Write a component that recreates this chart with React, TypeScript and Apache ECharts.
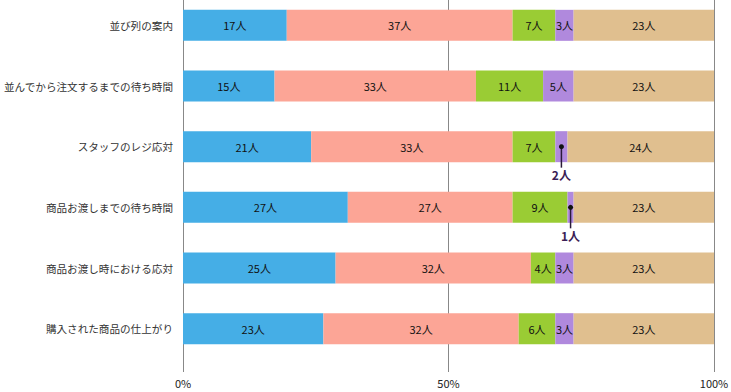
import React, { useEffect, useRef } from "react";
import * as echarts from "echarts";

const categories = [
  "並び列の案内",
  "並んでから注文するまでの待ち時間",
  "スタッフのレジ応対",
  "商品お渡しまでの待ち時間",
  "商品お渡し時における応対",
  "購入された商品の仕上がり",
];
const s1 = [17, 15, 21, 27, 25, 23];
const s2 = [37, 33, 33, 27, 32, 32];
const s3 = [7, 11, 7, 9, 4, 6];
const s4 = [3, 5, 2, 1, 3, 3];
const s5 = [23, 23, 24, 23, 23, 23];
const seriesValues = [s1, s2, s3, s4, s5];
const colors = ["#45AEE6", "#FCA596", "#9ACC34", "#B089DD", "#E0BF8F"];
const xTicks = ["0%", "50%", "100%"];

const FONT = "'Noto Sans CJK JP', 'Noto Sans', sans-serif";

export default function App() {
  const ref = useRef<HTMLDivElement>(null);
  useEffect(() => {
    if (!ref.current) return;
    const chart = echarts.init(ref.current, undefined, { renderer: "svg" });
    const totals = categories.map((_, i) => seriesValues.reduce((a, s) => a + s[i], 0));
    const pct = (v: number, i: number) => (v / totals[i]) * 100;

    const callouts: any[] = [];
    categories.forEach((_, i) => {
      const v = s4[i];
      if (v < 3) {
        const before = s1[i] + s2[i] + s3[i];
        callouts.push([pct(before + v / 2, i), i, v + "人"]);
      }
    });

    const barSeries = seriesValues.map((arr, si) => ({
      type: "bar",
      stack: "total",
      xAxisIndex: 0,
      yAxisIndex: 0,
      barWidth: 31,
      data: arr.map((v, i) => ({ value: pct(v, i), raw: v })),
      itemStyle: { color: colors[si] },
      label: {
        show: true,
        position: "inside",
        color: "#111",
        fontSize: 11,
        fontFamily: FONT,
        formatter: (p: any) => (p.data.raw < 3 ? "" : p.data.raw + "人"),
      },
    }));

    chart.setOption({
      animation: false,
      grid: [
        { left: 183, right: 17, top: -5, bottom: 33, outerBoundsMode: "none", containLabel: false },
        { left: 183, right: 17, top: 0, bottom: 20, outerBoundsMode: "none", containLabel: false },
      ],
      xAxis: [
        { type: "value", gridIndex: 0, min: 0, max: 100, show: false },
        {
          type: "value",
          gridIndex: 1,
          min: 0,
          max: 100,
          interval: 50,
          axisLine: { show: false },
          axisTick: { show: false },
          splitLine: { show: true, lineStyle: { color: "#888", width: 1 } },
          axisLabel: {
            margin: 5,
            color: "#222",
            fontSize: 11,
            fontFamily: FONT,
            formatter: (v: number) => xTicks[Math.round(v / 50)],
          },
        },
      ],
      yAxis: [
        {
          type: "category",
          gridIndex: 0,
          data: categories,
          inverse: true,
          axisLine: { show: false },
          axisTick: { show: false },
          axisLabel: { margin: 10, color: "#333", fontSize: 10.6, fontFamily: FONT },
        },
        { type: "value", gridIndex: 1, show: false },
      ],
      series: [
        ...barSeries,
        {
          type: "custom",
          xAxisIndex: 0,
          yAxisIndex: 0,
          data: callouts,
          z: 10,
          renderItem: (params: any, api: any) => {
            const pt = api.coord([api.value(0), api.value(1)]);
            const label = callouts[params.dataIndex][2];
            return {
              type: "group",
              children: [
                {
                  type: "line",
                  shape: { x1: pt[0], y1: pt[1], x2: pt[0], y2: pt[1] + 21 },
                  style: { stroke: "#2a1a3a", lineWidth: 1.5 },
                },
                {
                  type: "circle",
                  shape: { cx: pt[0], cy: pt[1], r: 2.5 },
                  style: { fill: "#111" },
                },
                {
                  type: "text",
                  x: pt[0],
                  y: pt[1] + 28,
                  style: {
                    text: label,
                    fill: "#3b1e55",
                    font: "bold 12px " + FONT,
                    align: "center",
                    verticalAlign: "middle",
                  },
                },
              ],
            };
          },
        },
      ],
    });
    return () => chart.dispose();
  }, []);
  return (
    <div
      ref={ref}
      style={{ position: "absolute", left: 0, top: 0, width: 731, height: 392 }}
    />
  );
}
